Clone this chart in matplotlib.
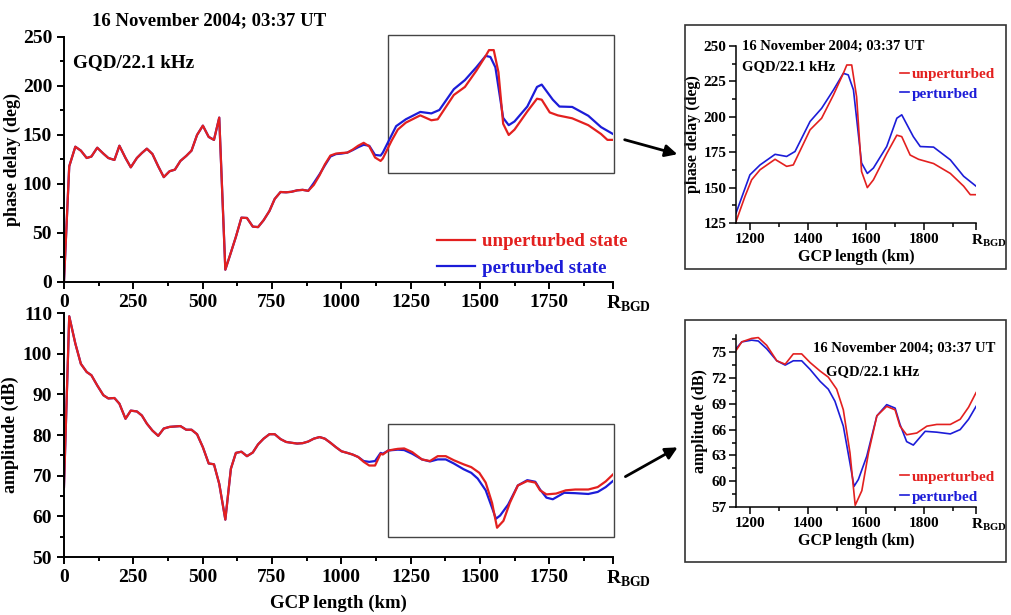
import numpy as np
import matplotlib
matplotlib.use('Agg')
import matplotlib.pyplot as plt
import matplotlib.transforms as mtransforms
from matplotlib.patches import Rectangle, FancyArrowPatch

plt.rcParams['font.family'] = ['Liberation Serif', 'DejaVu Serif']
plt.rcParams['font.weight'] = 'bold'
plt.rcParams['mathtext.fontset'] = 'custom'
plt.rcParams['mathtext.rm'] = 'Liberation Serif:bold'
plt.rcParams['mathtext.bf'] = 'Liberation Serif:bold'

RED = '#e3201f'
BLUE = '#1c1cd8'
R_BGD = 1980

# common path-length grid for the left part of the path (km)
km_main = [0, 19, 41, 61, 82, 99, 120, 142, 160, 182,
           200, 222, 241, 263, 281, 299, 319, 340, 360, 381,
           400, 420, 441, 460, 480, 501, 522, 541, 560, 582,
           602, 620, 640, 660, 681, 700, 720, 741, 760, 781,
           801, 820, 841, 861, 881, 901, 922, 941, 961, 981,
           1001, 1022, 1041, 1061, 1081, 1101, 1122, 1142]

# phase delay (deg)
phase_unpert_main = [0, 118, 138, 134, 126.5, 128, 137, 131, 126.5, 124.5,
                     139, 126.5, 117, 126.5, 131.6, 136, 130.6, 118, 107, 113,
                     114.6, 123.5, 128.6, 134, 150, 159.5, 148, 145, 167.7, 12.6,
                     30, 46, 65.6, 65.3, 56.5, 56, 63, 72.4, 84.7, 91.8,
                     91.5, 92, 93.5, 94, 93, 99, 109, 120, 129, 131,
                     131.6, 132, 135, 139, 142, 138.4, 127, 123.5]
phase_pert_main = [0, 118, 138, 134, 126.5, 128, 137, 131, 126.5, 124.5,
                   139, 126.5, 117, 126.5, 131.6, 136, 130.6, 118, 107, 113,
                   114.6, 123.5, 128.6, 134, 150, 159.5, 148, 145, 167.7, 12.6,
                   30, 46, 65.6, 65.3, 56.5, 56, 63, 72.4, 84.7, 91.8,
                   91.5, 92, 93.5, 94, 93, 101, 110, 119, 128, 130.5,
                   131, 132, 134.5, 137.5, 140, 139, 129.6, 129]

km_phase_unpert = [1150, 1181, 1204, 1233, 1285, 1325, 1348, 1406, 1446, 1487,
                   1521, 1533, 1550, 1567, 1584, 1604, 1625, 1671, 1706, 1723,
                   1752, 1781, 1833, 1891, 1937, 1960, 1980]
phase_unpert = [126, 143.8, 155.5, 162.6, 170, 165, 166, 190.8, 199, 215.5,
                230.7, 236.6, 236.6, 214, 161.4, 150, 155.5, 174, 187, 186,
                173, 170, 167, 160, 151, 145, 145]
km_phase_pert = [1150, 1198, 1233, 1285, 1325, 1354, 1406, 1446, 1487, 1521,
                 1538, 1556, 1584, 1604, 1625, 1671, 1706, 1723, 1763, 1787,
                 1833, 1891, 1937, 1980]
phase_pert = [132, 159, 166, 173.5, 172, 175.5, 196.7, 206, 219, 230.7,
              229.6, 219, 167.4, 160, 163.8, 179, 199, 201.4, 186, 179,
              178.6, 169.6, 158, 151]

# amplitude (dB)
amp_unpert_main = [67.2, 109.2, 102.5, 97.5, 95.5, 94.7, 92.2, 89.8, 89, 89.1,
                   87.7, 84, 86, 85.8, 84.8, 82.8, 81.1, 79.8, 81.6, 82,
                   82.1, 82.2, 81.3, 81.3, 80.2, 77, 73, 72.8, 68, 59.2,
                   71.7, 75.6, 75.9, 74.8, 75.7, 77.7, 79.1, 80.2, 80.2, 79,
                   78.3, 78.1, 77.9, 78, 78.4, 79.1, 79.5, 79.1, 78.1, 77,
                   76, 75.6, 75.2, 74.6, 73.4, 72.5, 72.5, 75.4]
amp_pert_main = [67.2, 109.2, 102.5, 97.5, 95.5, 94.7, 92.2, 89.8, 89, 89.1,
                 87.7, 84, 86, 85.8, 84.8, 82.8, 81.1, 79.8, 81.6, 82,
                 82.1, 82.2, 81.3, 81.3, 80.2, 77, 73, 72.8, 68, 59.2,
                 71.7, 75.6, 75.9, 74.8, 75.7, 77.7, 79.1, 80.2, 80.2, 79,
                 78.3, 78.1, 77.9, 78, 78.4, 79.1, 79.5, 79.1, 78.1, 77,
                 76, 75.6, 75.2, 74.6, 73.6, 73.4, 73.6, 75.6]

km_amp_unpert = [1150, 1170, 1204, 1227, 1256, 1291, 1320, 1348, 1377, 1406,
                 1441, 1469, 1498, 1521, 1544, 1562, 1585, 1608, 1637, 1671,
                 1700, 1717, 1740, 1775, 1810, 1844, 1891, 1925, 1954, 1980]
amp_unpert = [75.2, 76.2, 76.6, 76.7, 75.8, 74.0, 73.6, 74.8, 74.8, 73.8,
              72.8, 72.1, 70.7, 68.3, 63.3, 57.2, 58.9, 63.3, 67.6, 68.7,
              68.3, 66.4, 65.4, 65.6, 66.4, 66.6, 66.6, 67.2, 68.6, 70.3]
km_amp_pert = [1150, 1170, 1204, 1227, 1256, 1291, 1320, 1348, 1377, 1406,
               1441, 1469, 1492, 1521, 1544, 1558, 1573, 1602, 1637, 1671,
               1700, 1717, 1740, 1763, 1804, 1844, 1891, 1925, 1954, 1980]
amp_pert = [75.4, 76.2, 76.4, 76.3, 75.4, 74.0, 73.5, 74.0, 74.0, 73.0,
            71.6, 70.7, 69.3, 66.4, 62.1, 59.4, 60.2, 62.9, 67.6, 68.9,
            68.5, 66.6, 64.6, 64.2, 65.8, 65.7, 65.5, 66.0, 67.2, 68.7]

title = '16 November 2004; 03:37 UT'
station = 'GQD/22.1 kHz'
rlabel = r'$\mathrm{R}_{\mathrm{BGD}}$'


def style_axes(ax, lw=1.4):
    ax.spines['top'].set_visible(False)
    ax.spines['right'].set_visible(False)
    ax.spines['left'].set_linewidth(lw)
    ax.spines['bottom'].set_linewidth(lw)
    ax.tick_params(which='major', length=5, width=lw)
    ax.tick_params(which='minor', length=3, width=lw)


def shift_r_label(ax, dx):
    # R_BGD label starts at the end of the axis, as in the original
    lab = ax.get_xticklabels()[-1]
    lab.set_horizontalalignment('left')
    lab.set_transform(lab.get_transform() +
                      mtransforms.ScaledTranslation(dx / 72, 0, fig.dpi_scale_trans))


fig = plt.figure(figsize=(10.12, 6.15), dpi=100)

# ---------- main phase panel
ax1 = fig.add_axes([0.0632, 0.5415, 0.5425, 0.3984])
ax1.plot(km_main + km_phase_pert, phase_pert_main + phase_pert, color=BLUE, lw=1.6,
         label='perturbed state')
ax1.plot(km_main + km_phase_unpert, phase_unpert_main + phase_unpert, color=RED, lw=1.6,
         label='unperturbed state')
ax1.set_xlim(0, R_BGD)
ax1.set_ylim(0, 250)
ax1.set_xticks([0, 250, 500, 750, 1000, 1250, 1500, 1750, R_BGD])
ax1.set_xticklabels(['0', '250', '500', '750', '1000', '1250', '1500', '1750', rlabel])
ax1.set_xticks([125, 375, 625, 875, 1125, 1375, 1625, 1875], minor=True)
ax1.set_yticks([0, 50, 100, 150, 200, 250])
ax1.set_yticks([25, 75, 125, 175, 225], minor=True)
ax1.tick_params(labelsize=14)
style_axes(ax1)
shift_r_label(ax1, -5)
ax1.set_ylabel('phase delay (deg)', fontsize=13, fontweight='bold', labelpad=1)
ax1.add_patch(Rectangle((1167, 111), 1983 - 1167, 141, fill=False, ec='#444444',
                        lw=1.0, clip_on=False))
fig.text(0.207, 0.967, title, fontsize=13.5, ha='center', va='center')
fig.text(0.072, 0.899, station, fontsize=13.8, ha='left', va='center')
h, l = ax1.get_legend_handles_labels()
ax1.legend(h[::-1], l[::-1], loc='lower left', bbox_to_anchor=(0.68, 0.02), frameon=False,
           fontsize=13.6, handlelength=2.0, handletextpad=0.35, labelspacing=0.5,
           labelcolor='linecolor', borderaxespad=0, borderpad=0)

# ---------- main amplitude panel
ax2 = fig.add_axes([0.0632, 0.0943, 0.5425, 0.3967])
ax2.plot(km_main + km_amp_pert, amp_pert_main + amp_pert, color=BLUE, lw=1.6)
ax2.plot(km_main + km_amp_unpert, amp_unpert_main + amp_unpert, color=RED, lw=1.6)
ax2.set_xlim(0, R_BGD)
ax2.set_ylim(50, 110)
ax2.set_xticks([0, 250, 500, 750, 1000, 1250, 1500, 1750, R_BGD])
ax2.set_xticklabels(['0', '250', '500', '750', '1000', '1250', '1500', '1750', rlabel])
ax2.set_xticks([125, 375, 625, 875, 1125, 1375, 1625, 1875], minor=True)
ax2.set_yticks(np.arange(50, 111, 10))
ax2.set_yticks(np.arange(55, 110, 10), minor=True)
ax2.tick_params(labelsize=14)
style_axes(ax2)
shift_r_label(ax2, -5)
ax2.set_ylabel('amplitude (dB)', fontsize=13, fontweight='bold', labelpad=3)
ax2.set_xlabel('GCP length (km)', fontsize=13.5, fontweight='bold', labelpad=4)
ax2.add_patch(Rectangle((1167, 54.9), 1983 - 1167, 82.7 - 54.9, fill=False, ec='#444444',
                        lw=1.0, clip_on=False))

# ---------- inset frames and arrows
fig.patches.append(Rectangle((0.677, 0.5626), 0.317, 0.3967, transform=fig.transFigure,
                             fill=False, ec='#333333', lw=1.2))
fig.patches.append(Rectangle((0.677, 0.0862), 0.317, 0.3935, transform=fig.transFigure,
                             fill=False, ec='#333333', lw=1.2))
fig.add_artist(FancyArrowPatch((0.6146, 0.774), (0.672, 0.748),
               transform=fig.transFigure, arrowstyle='-|>', mutation_scale=18,
               lw=2, color='black'))
fig.add_artist(FancyArrowPatch((0.6156, 0.2228), (0.672, 0.2748),
               transform=fig.transFigure, arrowstyle='-|>', mutation_scale=18,
               lw=2, color='black'))

# ---------- phase inset
ax3 = fig.add_axes([0.7273, 0.6374, 0.2372, 0.2878])
ax3.plot(km_phase_pert, phase_pert, color=BLUE, lw=1.2, label='perturbed')
ax3.plot(km_phase_unpert, phase_unpert, color=RED, lw=1.2, label='unperturbed')
ax3.set_xlim(1150, R_BGD)
ax3.set_ylim(125, 250)
ax3.set_xticks([1200, 1400, 1600, 1800, R_BGD])
ax3.set_xticklabels(['1200', '1400', '1600', '1800', rlabel])
ax3.set_xticks([1300, 1500, 1700, 1900], minor=True)
ax3.set_yticks([125, 150, 175, 200, 225, 250])
ax3.set_yticks([137.5, 162.5, 187.5, 212.5, 237.5], minor=True)
ax3.tick_params(labelsize=11, pad=2)
style_axes(ax3, lw=1.1)
shift_r_label(ax3, -4)
ax3.set_ylabel('phase delay (deg)', fontsize=11.5, fontweight='bold', labelpad=2)
ax3.set_xlabel('GCP length (km)', fontsize=11.5, fontweight='bold', labelpad=0)
ax3.text(0.025, 1.0, title, transform=ax3.transAxes, fontsize=10.5, ha='left', va='center')
ax3.text(0.025, 0.883, station, transform=ax3.transAxes, fontsize=10.5, ha='left', va='center')
h, l = ax3.get_legend_handles_labels()
ax3.legend(h[::-1], l[::-1], loc='upper right', bbox_to_anchor=(1.08, 0.88), frameon=False,
           fontsize=11, handlelength=0.6, handletextpad=0.2, labelspacing=0.4,
           labelcolor='linecolor', borderaxespad=0, borderpad=0)

# ---------- amplitude inset
ax4 = fig.add_axes([0.7273, 0.1756, 0.2372, 0.2797])
ax4.plot(km_amp_pert, amp_pert, color=BLUE, lw=1.2, label='perturbed')
ax4.plot(km_amp_unpert, amp_unpert, color=RED, lw=1.2, label='unperturbed')
ax4.set_xlim(1150, R_BGD)
ax4.set_ylim(57, 77)
ax4.set_xticks([1200, 1400, 1600, 1800, R_BGD])
ax4.set_xticklabels(['1200', '1400', '1600', '1800', rlabel])
ax4.set_xticks([1300, 1500, 1700, 1900], minor=True)
ax4.set_yticks(np.arange(57, 77, 3))
ax4.set_yticks(np.arange(58.5, 77, 3), minor=True)
ax4.tick_params(labelsize=11, pad=2)
style_axes(ax4, lw=1.1)
shift_r_label(ax4, -4)
ax4.set_ylabel('amplitude (dB)', fontsize=11.5, fontweight='bold', labelpad=2)
ax4.set_xlabel('GCP length (km)', fontsize=11.5, fontweight='bold', labelpad=0)
ax4.text(1.08, 0.924, title, transform=ax4.transAxes, fontsize=10.5, ha='right', va='center')
ax4.text(0.567, 0.785, station, transform=ax4.transAxes, fontsize=10.5, ha='center', va='center')
h, l = ax4.get_legend_handles_labels()
ax4.legend(h[::-1], l[::-1], loc='lower right', bbox_to_anchor=(1.08, 0.02), frameon=False,
           fontsize=11, handlelength=0.6, handletextpad=0.2, labelspacing=0.4,
           labelcolor='linecolor', borderaxespad=0, borderpad=0)

fig.savefig('out.png', dpi=100)
